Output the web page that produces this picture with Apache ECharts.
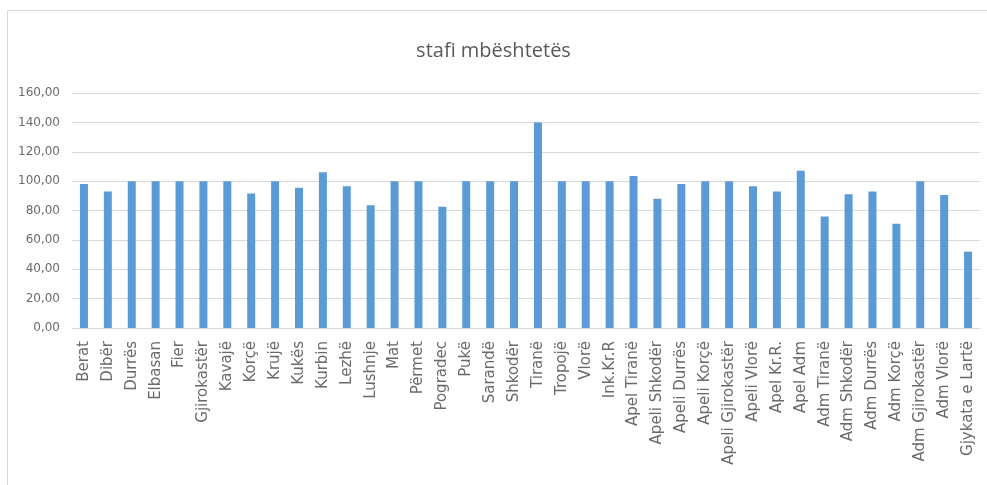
<!DOCTYPE html>
<html>
<head>
<meta charset="utf-8">
<script src="https://cdn.jsdelivr.net/npm/echarts@6/dist/echarts.min.js"></script>
<style>
html,body{margin:0;padding:0;background:#fff;}
#c{width:987px;height:485px;}
</style>
</head>
<body>
<div id="c"></div>
<script>
var categories = ["Berat","Dibër","Durrës","Elbasan","Fier","Gjirokastër","Kavajë","Korçë","Krujë","Kukës","Kurbin","Lezhë","Lushnje","Mat","Përmet","Pogradec","Pukë","Sarandë","Shkodër","Tiranë","Tropojë","Vlorë","Ink.Kr.R","Apel Tiranë","Apeli Shkodër","Apeli Durrës","Apeli Korçë","Apeli Gjirokastër","Apeli Vlorë","Apel Kr.R.","Apel Adm","Adm Tiranë","Adm Shkodër","Adm Durrës","Adm Korçë","Adm Gjirokastër","Adm Vlorë","Gjykata e Lartë"];
var values = [98,93,100,100,100,100,100,91.5,100,95.5,106,96.5,83.5,100,100,82.5,100,100,100,140,100,100,100,103.5,88,98,100,100,96.5,93,107,76,91,93,71,100,90.5,52];
var yTicks = [0,20,40,60,80,100,120,140,160];
var titleText = "stafi mbështetës";

var chart = echarts.init(document.getElementById('c'), null, {renderer:'canvas'});
chart.setOption({
  animation:false,
  backgroundColor:'#fff',
  graphic:[{type:'rect',shape:{x:7.5,y:10.5,width:1000,height:500},style:{fill:'none',stroke:'#d9d9d9',lineWidth:1}}],
  title:{text:titleText,left:'center',top:36,textStyle:{fontFamily:'"Open Sans", sans-serif',fontSize:20,fontWeight:'normal',color:'#595959'}},
  grid:{left:72,right:7,top:93,bottom:157,containLabel:false},
  xAxis:{type:'category',data:categories,
    axisLine:{lineStyle:{color:'#d9d9d9'}},axisTick:{show:false},
    axisLabel:{interval:0,rotate:90,color:'#6a6a6a',fontSize:15,fontFamily:'"DejaVu Sans", sans-serif',margin:13}},
  yAxis:{type:'value',min:yTicks[0],max:yTicks[yTicks.length-1],interval:20,
    axisLine:{show:false},axisTick:{show:false},
    splitLine:{lineStyle:{color:'#d9d9d9'}},
    axisLabel:{color:'#6a6a6a',fontSize:12,fontFamily:'"DejaVu Sans", sans-serif',margin:12,
      formatter:function(v){return v.toFixed(2).replace('.',',');}}},
  series:[{type:'bar',data:values,barWidth:8,itemStyle:{color:'#5b9bd5'}}]
});
</script>
</body>
</html>
